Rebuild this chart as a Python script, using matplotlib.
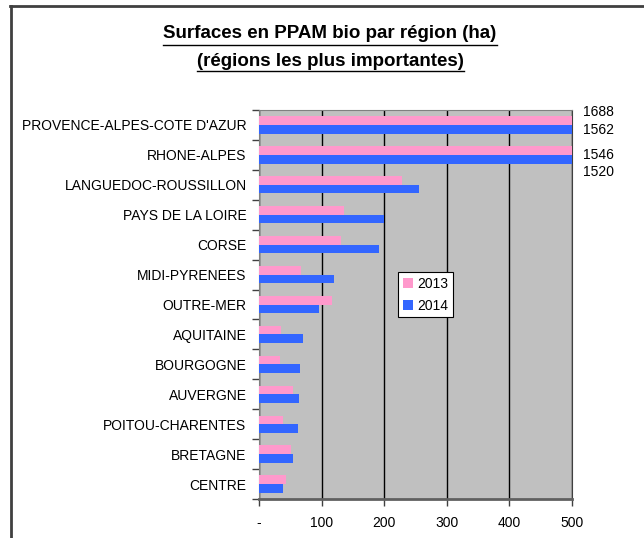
import matplotlib
matplotlib.use("Agg")
import matplotlib.pyplot as plt
import numpy as np
from matplotlib.lines import Line2D

plt.rcParams['font.family'] = ['Liberation Sans', 'DejaVu Sans']

regions = ["PROVENCE-ALPES-COTE D'AZUR", "RHONE-ALPES", "LANGUEDOC-ROUSSILLON",
           "PAYS DE LA LOIRE", "CORSE", "MIDI-PYRENEES", "OUTRE-MER", "AQUITAINE",
           "BOURGOGNE", "AUVERGNE", "POITOU-CHARENTES", "BRETAGNE", "CENTRE"]
v2013 = [1688, 1546, 229, 136, 131, 67, 117, 35, 34, 54, 38, 51, 43]
v2014 = [1562, 1520, 255, 200, 191, 120, 96, 70, 66, 64, 62, 54, 38]
xticks = [0, 100, 200, 300, 400, 500]
xlabels = ["-", "100", "200", "300", "400", "500"]

pink = '#FF99CC'
blue = '#3366FF'
fs = 10

fig = plt.figure(figsize=(6.44, 5.38), dpi=100)
# outer chart frame (top and left edges visible)
fig.add_artist(Line2D([10/644, 1], [1 - 5.5/538, 1 - 5.5/538], color='#404040', lw=2))
fig.add_artist(Line2D([10.5/644, 10.5/644], [0, 1 - 5.5/538], color='#404040', lw=2))

ax = fig.add_axes([259/644, 39/538, 313/644, 389/538])
ax.set_facecolor('#C0C0C0')

y = np.arange(len(regions))
h = 0.29
ax.barh(y - h/2, v2013, height=h, color=pink, label='2013', zorder=3)
ax.barh(y + h/2, v2014, height=h, color=blue, label='2014', zorder=3)

ax.set_xlim(0, 500)
ax.set_ylim(len(regions) - 0.5, -0.5)
ax.set_xticks(xticks)
ax.set_xticklabels(xlabels, fontsize=fs)
ax.set_yticks(y)
ax.set_yticklabels(regions, fontsize=fs)
ax.tick_params(axis='y', length=0, pad=9)
ax.set_yticks(np.arange(len(regions) + 1) - 0.5, minor=True)
ax.tick_params(axis='y', which='minor', length=5, width=1, color='#404040')
ax.tick_params(axis='x', length=5, width=1, color='#404040', pad=7)
ax.grid(axis='x', color='black', lw=1, zorder=1)

for s in ['top', 'left']:
    ax.spines[s].set_color('#808080')
ax.spines['right'].set_color('#404040')
ax.spines['bottom'].set_color('#606060')
ax.spines['bottom'].set_linewidth(2)

# labels for bars running past the axis
offs = [(-8.6, 0.9), (4.5, 13)]
for i in range(2):
    ax.annotate(str(v2013[i]), (500, i - h/2), xytext=(8, -offs[i][0] * 0.72),
                textcoords='offset points', va='center', ha='left', fontsize=fs,
                annotation_clip=False)
    ax.annotate(str(v2014[i]), (500, i + h/2), xytext=(8, -offs[i][1] * 0.72),
                textcoords='offset points', va='center', ha='left', fontsize=fs,
                annotation_clip=False)

leg = ax.legend(loc='upper left', bbox_to_anchor=(139/313, (499 - 272)/389),
                fontsize=fs, frameon=True, fancybox=False, framealpha=1,
                edgecolor='black', handlelength=0.75, handleheight=0.75,
                borderpad=0.35, labelspacing=0.55, handletextpad=0.3,
                borderaxespad=0)
leg.get_frame().set_linewidth(0.8)

fig.text(330/644, 1 - 34/538, "Surfaces en PPAM bio par région (ha)", ha='center',
         va='center', fontsize=13.5, fontweight='bold')
fig.text(330/644, 1 - 61/538, "(régions les plus importantes)", ha='center',
         va='center', fontsize=13.5, fontweight='bold')
# underlines
fig.add_artist(Line2D([163/644, 497/644], [1 - 45/538, 1 - 45/538], color='black', lw=1))
fig.add_artist(Line2D([197/644, 464/644], [1 - 71/538, 1 - 71/538], color='black', lw=1))

fig.savefig('out.png', dpi=100)
